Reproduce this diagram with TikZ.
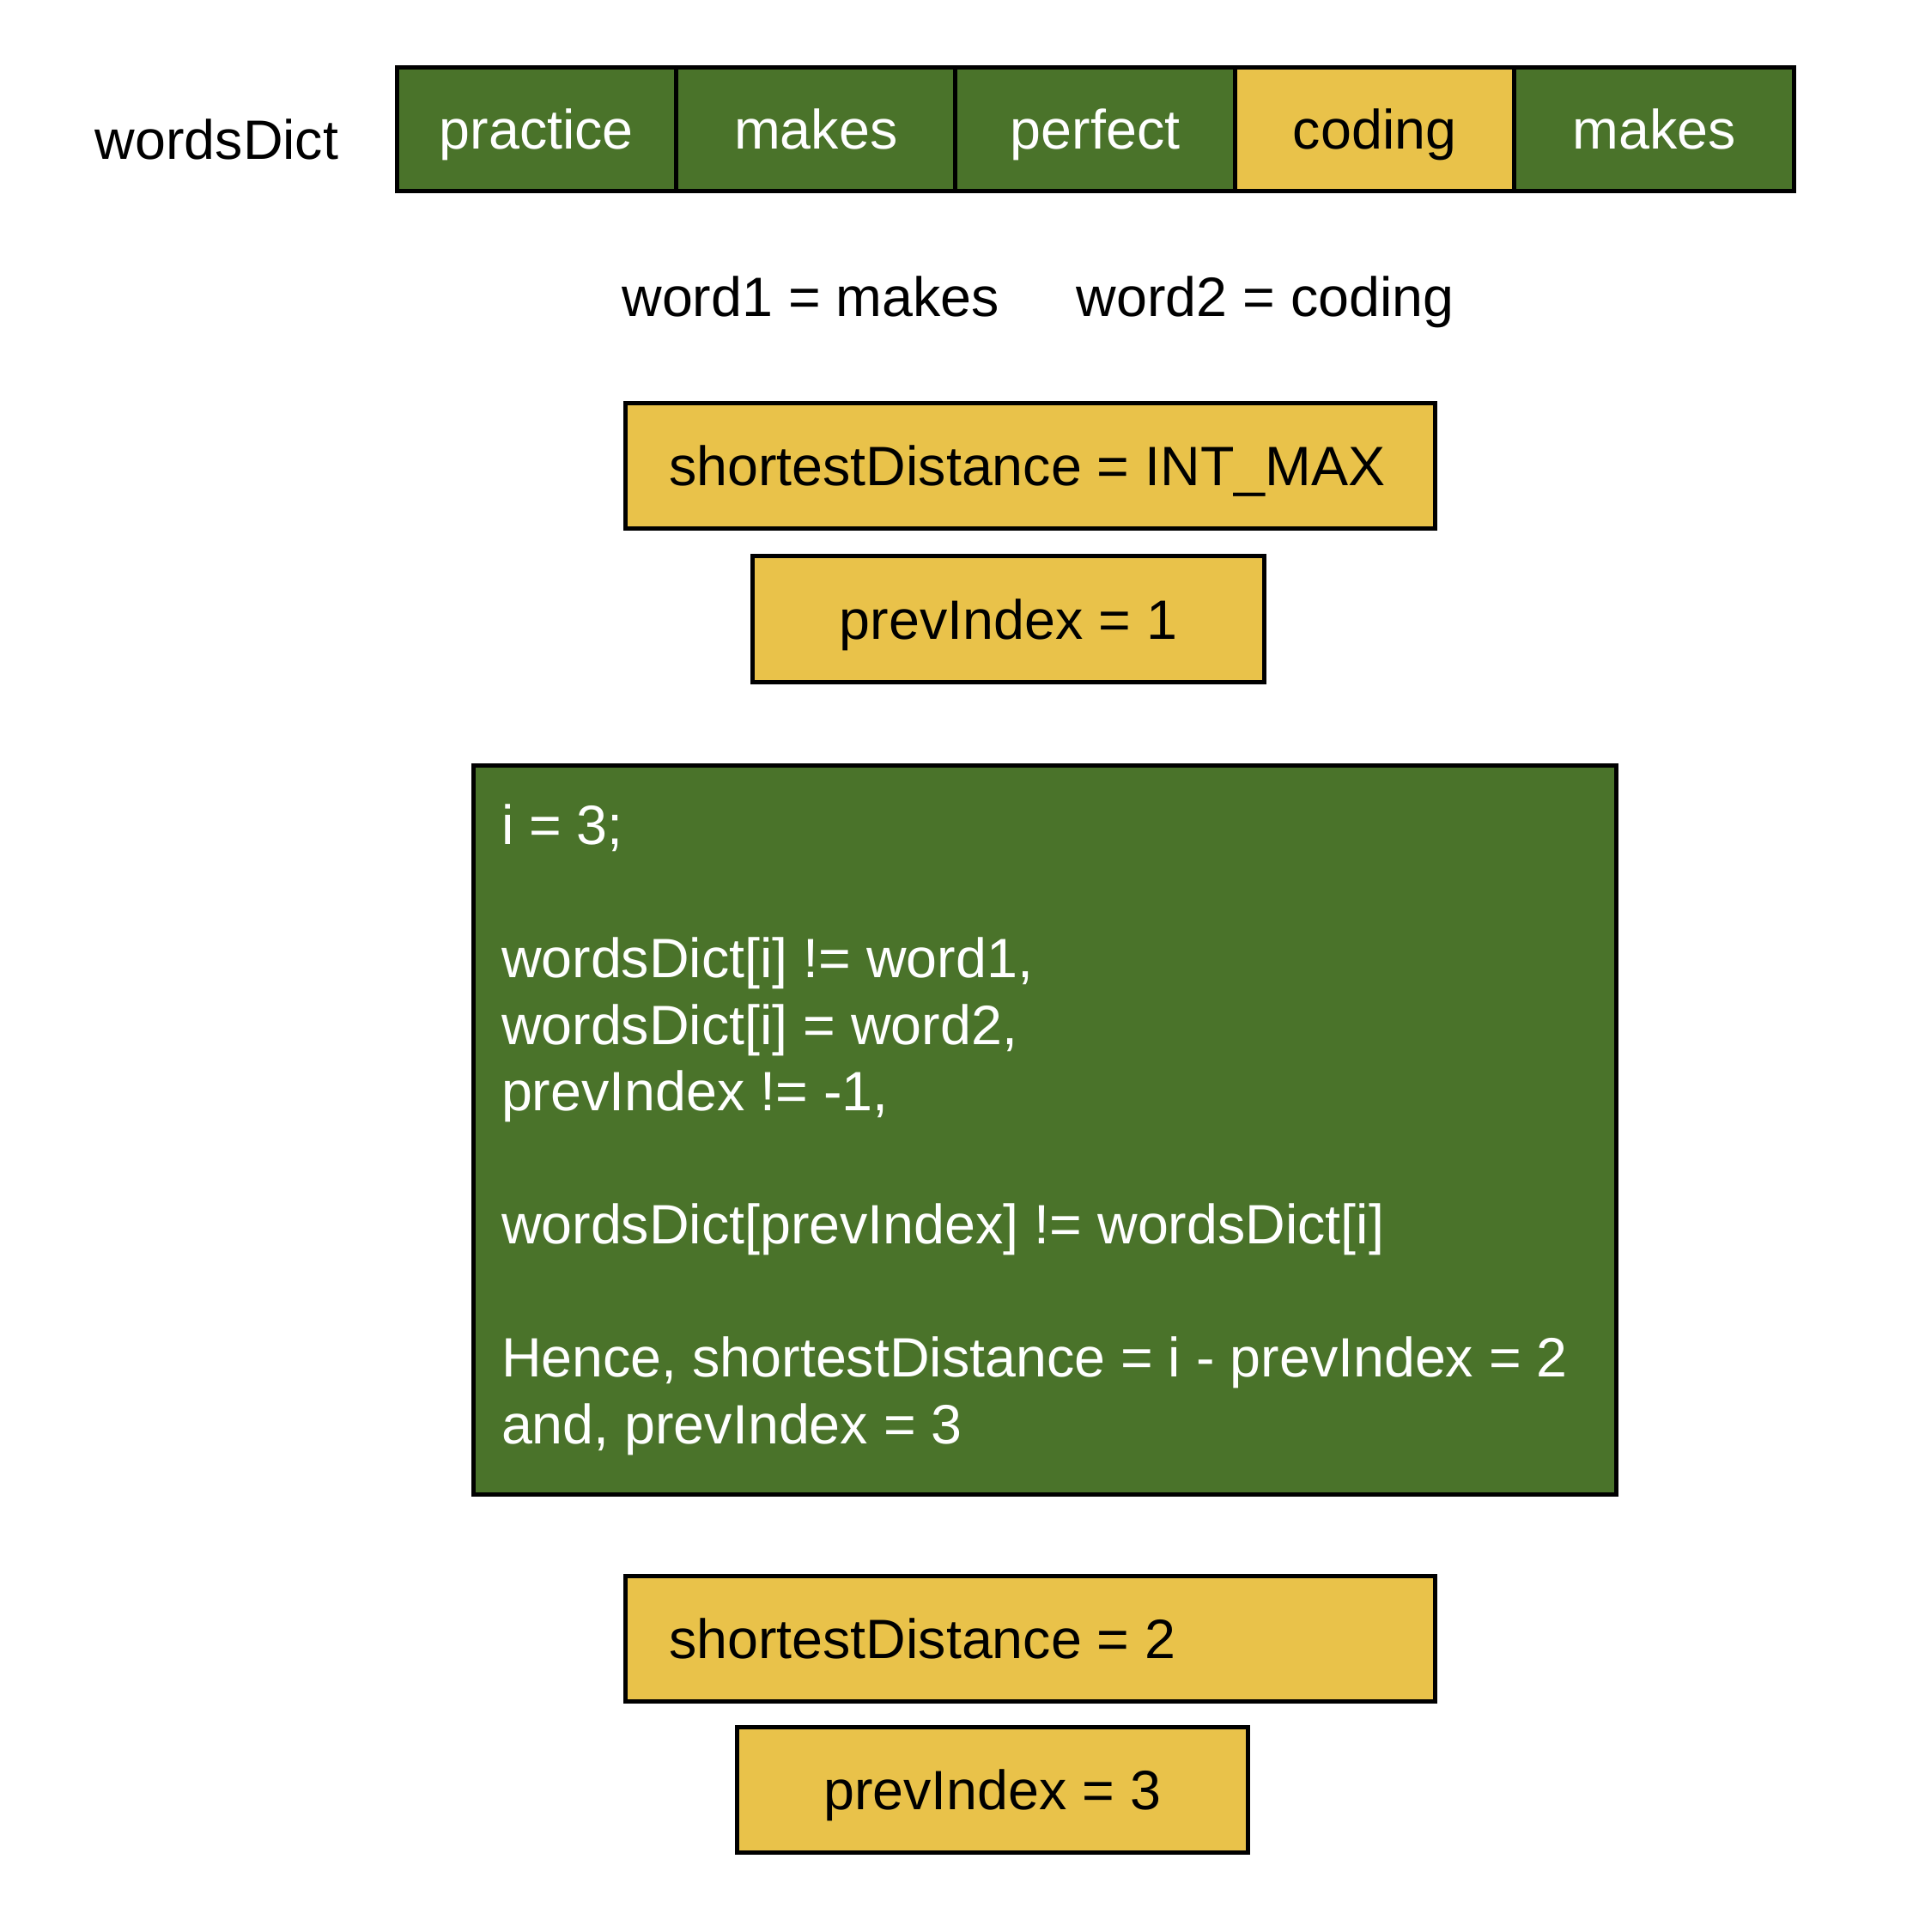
\documentclass[tikz,border=0pt]{standalone}
\usepackage{fontspec}
\setmainfont{Liberation Sans}
\definecolor{dgreen}{RGB}{74,115,42}
\definecolor{dyellow}{RGB}{233,194,74}
\newcommand\diagfont{\fontsize{45}{54}\selectfont}
\begin{document}
\begin{tikzpicture}[x=1pt,y=-1pt,
  every node/.style={font=\diagfont},
  cellbox/.style={draw=black,line width=3.5pt,minimum width=226.8pt,minimum height=100pt,
    inner sep=0pt,text height=32.2pt,text depth=0pt},
  gcell/.style={cellbox,fill=dgreen,text=white},
  ycell/.style={cellbox,fill=dyellow,text=black},
  ybox/.style={draw=black,line width=3.5pt,fill=dyellow,minimum height=102pt,
    inner ysep=0pt,text height=32.2pt,text depth=0pt},
  plain/.style={inner sep=0pt,text height=32.2pt,text depth=0pt}
]
\useasboundingbox (0,0) rectangle (1567,1568);
% label
\node[plain] (lbl) at (176,113) {wordsDict};
% array row
\node[gcell] (c0) at (435.4,105) {practice};
\node[gcell] (c1) at (662.2,105) {makes};
\node[gcell] (c2) at (889.0,105) {perfect};
\node[ycell] (c3) at (1115.8,105) {coding};
\node[gcell] (c4) at (1342.6,105) {makes};
% words
\node[plain] (w1) at (658,241) {word1 = makes};
\node[plain] (w2) at (1027,241) {word2 = coding};
% initial state
\node[ybox,minimum width=657pt,text width=587pt,inner xsep=35pt,align=flush left] (sd0) at (836.5,378) {shortestDistance = INT\_MAX};
\node[ybox,minimum width=415pt] (pi0) at (818.5,502.5) {prevIndex = 1};
% computation box
\node[draw=black,line width=3.5pt,fill=dgreen,text=white,minimum width=928pt,minimum height=592pt,
  text width=882pt,inner xsep=23pt,inner ysep=0pt,align=flush left] (calc) at (848,917)
  {i = 3;\\[54pt]
   wordsDict[i] != word1,\\
   wordsDict[i] = word2,\\
   prevIndex != -1,\\[54pt]
   wordsDict[prevIndex] != wordsDict[i]\\[54pt]
   \mbox{Hence, shortestDistance = i - prevIndex = 2}\\
   and, prevIndex = 3};
% final state
\node[ybox,minimum width=657pt,text width=587pt,inner xsep=35pt,align=flush left] (sd1) at (836.5,1330) {shortestDistance = 2};
\node[ybox,minimum width=415pt] (pi1) at (805.5,1452.5) {prevIndex = 3};
\end{tikzpicture}
\end{document}
